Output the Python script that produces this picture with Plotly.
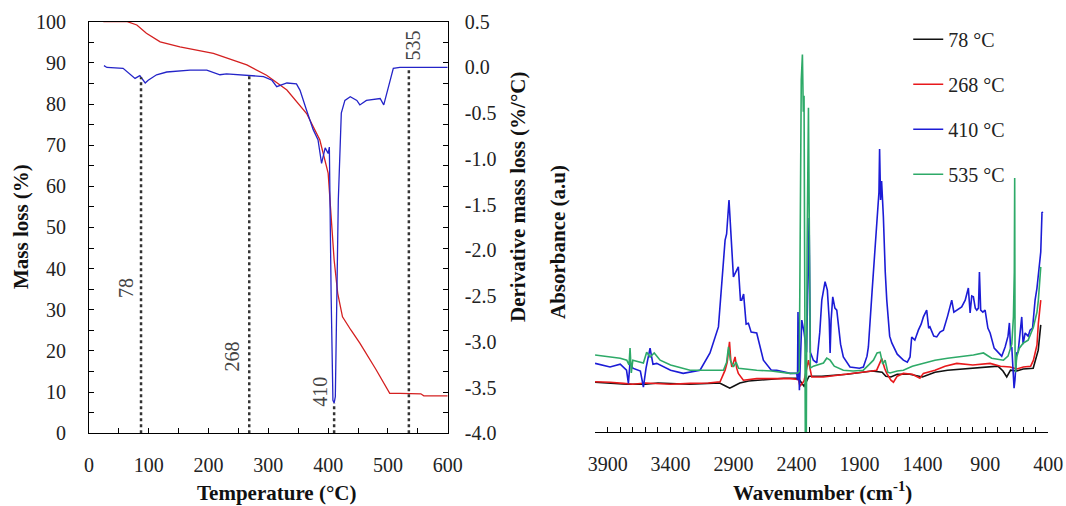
import numpy as np
import plotly.graph_objects as go

# ---------------- Left panel: TGA / DTG ----------------
tga_temp = [24, 64, 80, 96, 119, 152, 208, 264, 297, 331, 364, 386, 400, 404, 410, 416, 424, 438,
            453, 480, 503, 520, 555, 560, 600]
tga_mass = [100, 100, 99.2, 97.2, 95.1, 93.9, 92.3, 89.5, 87.0, 83.4, 77.7, 71.3, 63.2, 54.3, 42.1,
            34.0, 28.3, 25.1, 21.9, 15.5, 9.7, 9.7, 9.6, 9.1, 9.1]

dtg_temp = [25, 30, 57, 69, 77, 85, 94, 99, 113, 130, 169, 197, 219, 230, 264, 292, 306, 314, 322,
            331, 347, 353, 364, 375, 383, 389, 395, 400, 402, 403, 405, 408, 410, 412, 414, 417, 422,
            428, 437, 448, 453, 464, 487, 493, 501, 509, 520, 600]
dtg_val = [0.02, 0.0, -0.01, -0.08, -0.12, -0.09, -0.17, -0.14, -0.08, -0.05, -0.03, -0.03, -0.08,
           -0.07, -0.09, -0.10, -0.14, -0.21, -0.19, -0.17, -0.18, -0.25, -0.47, -0.68, -0.79, -1.05,
           -0.88, -0.94, -0.87, -1.45, -2.5, -3.64, -3.67, -3.6, -2.8, -1.45, -0.50, -0.36, -0.32,
           -0.36, -0.41, -0.36, -0.34, -0.41, -0.21, -0.01, 0.0, 0.0]

mark_temps = [87, 268, 410, 535]
mark_labels = ["78", "268", "410", "535"]

mass_ticks = list(range(0, 101, 5))
temp_ticks = list(range(0, 601, 50))
dtg_ticks = [0.5, 0.0, -0.5, -1.0, -1.5, -2.0, -2.5, -3.0, -3.5, -4.0]
dtg_ticktext = ["0.5", "0.0", "-0.5", "-1.0", "-1.5", "-2.0", "-2.5", "-3.0", "-3.5", "-4.0"]

# ---------------- Right panel: FTIR ----------------
w_78 = [4000, 3880, 3750, 3600, 3500, 3250, 3010, 2960, 2930, 2900, 2850, 2780, 2700, 2500, 2400,
        2375, 2340, 2300, 2200, 2000, 1800, 1720, 1690, 1650, 1600, 1500, 1400, 1300, 1200, 1000,
        900, 800, 760, 730, 700, 650, 600, 520, 480, 460]
a_78 = [12.5, 12.3, 12.0, 12.0, 12.3, 12.0, 12.3, 11.5, 11.0, 11.5, 12.3, 12.8, 13.0, 13.5, 13.5,
        13.0, 11.5, 14.0, 14.0, 14.5, 15.3, 15.0, 14.0, 13.8, 14.5, 14.5, 13.8, 15.0, 15.5, 16.0,
        16.3, 16.5, 15.3, 13.8, 15.5, 15.3, 15.8, 16.0, 20.5, 26.8]

w_268 = [4000, 3880, 3774, 3700, 3600, 3510, 3400, 3245, 3100, 3007, 2967, 2950, 2932, 2922, 2914,
         2900, 2888, 2875, 2862, 2822, 2716, 2600, 2451, 2385, 2372, 2340, 2305, 2290, 2279, 2186,
         2050, 1922, 1800, 1763, 1740, 1723, 1700, 1683, 1650, 1630, 1600, 1551, 1480, 1420, 1392,
         1300, 1220, 1127, 1000, 862, 780, 703, 650, 598, 540, 518, 490, 479, 460]
a_268 = [12.6, 12.5, 12.2, 12.0, 12.3, 12.2, 12.0, 12.2, 12.3, 12.6, 15.5, 17.5, 22.6, 18.0, 16.3,
         17.5, 18.8, 16.0, 14.7, 13.0, 13.4, 13.4, 13.4, 13.2, 11.5, 12.8, 18.0, 15.5, 13.8, 13.8,
         14.3, 14.7, 15.3, 15.5, 17.0, 18.4, 16.0, 14.7, 13.0, 12.5, 14.0, 14.7, 14.5, 13.5, 14.7,
         15.5, 16.5, 17.2, 16.8, 17.2, 16.5, 16.3, 15.8, 16.3, 16.5, 18.0, 21.8, 27.2, 33.0]

w_410 = [4000, 3881, 3800, 3750, 3735, 3722, 3700, 3640, 3616, 3595, 3563, 3540, 3510, 3400, 3300,
         3166, 3087, 3020, 2967, 2955, 2936, 2920, 2901, 2862, 2845, 2835, 2820, 2800, 2782, 2760,
         2716, 2663, 2600, 2557, 2450, 2398, 2392, 2388, 2377, 2358, 2340, 2320, 2300, 2290, 2266,
         2239, 2215, 2199, 2173, 2155, 2140, 2133, 2125, 2112, 2095, 2080, 2050, 2028, 1975, 1900,
         1869, 1840, 1829, 1800, 1789, 1770, 1758, 1745, 1740, 1732, 1724, 1710, 1695, 1683, 1660,
         1643, 1600, 1551, 1520, 1498, 1485, 1460, 1432, 1410, 1392, 1366, 1350, 1340, 1310, 1286,
         1260, 1233, 1200, 1167, 1150, 1127, 1088, 1060, 1035, 1021, 1008, 995, 980, 968, 955, 947,
         937, 920, 902, 880, 862, 830, 796, 770, 743, 720, 709, 700, 690, 680, 672, 665, 651, 640,
         624, 611, 600, 584, 560, 545, 525, 505, 490, 479, 460, 450, 444]
a_410 = [17.2, 16.3, 17.0, 15.5, 12.2, 17.5, 16.0, 15.3, 11.3, 16.0, 21.0, 17.0, 17.2, 15.5, 14.7,
         15.5, 19.8, 26.3, 48.0, 49.5, 58.0, 48.0, 38.8, 41.3, 33.0, 33.0, 34.5, 27.0, 27.2, 25.0,
         24.8, 18.0, 15.5, 15.5, 14.7, 14.7, 13.0, 30.0, 10.5, 28.0, 25.0, 20.0, 53.5, 20.0, 18.0,
         17.3, 25.0, 33.0, 37.6, 35.5, 28.0, 19.8, 28.0, 33.8, 31.0, 30.5, 22.0, 18.8, 16.3, 16.0,
         16.3, 19.0, 21.3, 35.0, 39.7, 48.0, 52.3, 60.0, 70.7, 58.0, 62.7, 53.8, 40.0, 33.0, 24.0,
         22.3, 19.5, 18.0, 17.5, 18.8, 23.8, 23.0, 25.5, 27.0, 28.8, 30.5, 26.0, 26.3, 24.0, 23.8,
         25.0, 25.5, 29.0, 33.0, 30.0, 30.5, 31.3, 33.0, 36.0, 29.8, 34.0, 33.8, 31.0, 30.5, 31.0,
         40.0, 30.5, 30.0, 30.5, 26.0, 24.8, 21.0, 19.8, 19.0, 21.3, 24.0, 27.3, 21.0, 21.3, 15.0,
         11.0, 13.0, 19.8, 20.0, 24.8, 28.8, 22.0, 24.8, 24.0, 25.5, 26.0, 33.0, 36.0, 38.8, 45.0,
         55.0, 54.7]

w_535 = [4000, 3881, 3800, 3748, 3730, 3722, 3712, 3700, 3640, 3616, 3590, 3563, 3530, 3483, 3400,
         3245, 3100, 2980, 2955, 2940, 2925, 2901, 2880, 2860, 2716, 2600, 2451, 2390, 2378, 2372,
         2362, 2353, 2346, 2340, 2335, 2330, 2322, 2316, 2305, 2298, 2290, 2266, 2239, 2186, 2160,
         2133, 2100, 2028, 1950, 1869, 1820, 1789, 1760, 1736, 1715, 1696, 1675, 1657, 1600, 1551,
         1480, 1392, 1300, 1200, 1127, 1050, 995, 915, 850, 756, 720, 690, 677, 670, 667, 664, 660,
         651, 630, 598, 560, 518, 490, 479, 465, 460]
a_535 = [19.3, 18.8, 18.5, 18.0, 16.8, 21.0, 14.8, 18.0, 17.5, 17.3, 20.0, 18.8, 19.8, 18.0, 16.8,
         15.5, 15.5, 15.5, 17.5, 21.3, 18.0, 16.3, 17.5, 16.0, 15.5, 15.3, 14.7, 14.8, 15.2, 45.0,
         88.0, 94.3, 80.0, 84.0, 40.0, 0.0, 0.0, 45.0, 81.0, 40.0, 16.0, 16.5, 16.8, 17.3, 18.5,
         18.0, 16.5, 15.5, 15.3, 15.5, 17.0, 18.0, 19.8, 20.0, 17.0, 18.0, 15.0, 14.8, 15.3, 15.5,
         16.5, 17.3, 18.0, 18.5, 18.8, 19.0, 19.3, 19.8, 18.5, 18.0, 19.0, 22.0, 28.8, 40.0, 63.5,
         20.0, 15.0, 18.8, 21.0, 22.3, 23.0, 26.3, 30.0, 33.0, 40.0, 41.3]

wave_ticks = list(range(4000, 399, -100))
wave_labels = [3900, 3400, 2900, 2400, 1900, 1400, 900, 400]

spectra = [
    ("78 °C", w_78, a_78, "#111111"),
    ("268 °C", w_268, a_268, "#e8191c"),
    ("410 °C", w_410, a_410, "#1c1cd6"),
    ("535 °C", w_535, a_535, "#2eaa68"),
]

SERIF = "Liberation Serif"
TXT = "#222222"

fig = go.Figure()

# TGA curve
fig.add_trace(go.Scatter(x=tga_temp, y=tga_mass, mode="lines", line=dict(color="#d42020", width=1.3),
                         xaxis="x", yaxis="y", showlegend=False))
# DTG curve
fig.add_trace(go.Scatter(x=dtg_temp, y=dtg_val, mode="lines", line=dict(color="#2424c8", width=1.3),
                         xaxis="x", yaxis="y2", showlegend=False))
# dotted markers from the axis up to the DTG curve
for t in mark_temps:
    top = float(np.interp(t, dtg_temp, dtg_val))
    fig.add_trace(go.Scatter(x=[t, t], y=[-4.0, top], mode="lines",
                             line=dict(color="#333333", width=2.5, dash="dot"),
                             xaxis="x", yaxis="y2", showlegend=False))

# FTIR spectra
for i, (name, w, a, col) in enumerate(spectra):
    fig.add_trace(go.Scatter(x=w, y=a, mode="lines", name=name, line=dict(color=col, width=1.6),
                             xaxis="x3", yaxis="y3", legendgroup=f"g{i}", showlegend=True))

axis_common = dict(showgrid=False, zeroline=False, showline=True, linecolor="#000000", linewidth=1.2,
                   tickcolor="#000000", tickfont=dict(family=SERIF, size=20, color=TXT),
                   automargin=False)

fig.update_layout(
    width=1066, height=506,
    margin=dict(l=0, r=0, t=0, b=0, pad=0, autoexpand=False),
    paper_bgcolor="white", plot_bgcolor="white",
    font=dict(family=SERIF, size=20, color=TXT),
    xaxis=dict(domain=[0.0835, 0.4200], range=[0, 600], anchor="y",
               tickmode="array", tickvals=temp_ticks,
               ticktext=[str(v) if v % 100 == 0 else "" for v in temp_ticks],
               ticks="inside", ticklen=5, mirror=True, ticklabelstandoff=14, **axis_common),
    yaxis=dict(domain=[0.1437, 0.9571], range=[0, 100], anchor="x",
               tickmode="array", tickvals=mass_ticks,
               ticktext=[str(v) if v % 10 == 0 else "" for v in mass_ticks],
               ticks="inside", ticklen=5, mirror="ticks", ticklabelstandoff=18, **axis_common),
    yaxis2=dict(overlaying="y", side="right", anchor="x", range=[-4.0, 0.5],
                tickmode="array", tickvals=dtg_ticks, ticktext=dtg_ticktext,
                ticks="", showline=False, showgrid=False, zeroline=False, ticklabelstandoff=16,
                automargin=False, tickfont=dict(family=SERIF, size=20, color=TXT)),
    xaxis3=dict(domain=[0.5582, 0.9834], range=[4000, 400], anchor="y3",
                tickmode="array", tickvals=wave_ticks,
                ticktext=[str(v) if v in wave_labels else "" for v in wave_ticks],
                ticks="inside", ticklen=5, mirror=False, ticklabelstandoff=14, **axis_common),
    yaxis3=dict(domain=[0.1457, 0.9571], range=[0, 102.5], anchor="x3", visible=False),
    legend=dict(x=0.852, y=0.961, xanchor="left", yanchor="top", bgcolor="rgba(0,0,0,0)",
                font=dict(family=SERIF, size=20, color=TXT), tracegroupgap=16, itemwidth=30),
)

ann = []
title_font = dict(family=SERIF, size=21, color="#111111")
centered = dict(xanchor="center", yanchor="middle", showarrow=False)
ann.append(dict(text="<b>Mass loss (%)</b>", x=21 / 1066, y=1 - 227 / 506, xref="paper", yref="paper",
                textangle=-90, font=title_font, **centered))
ann.append(dict(text="<b>Derivative mass loss (%/°C)</b>", x=518 / 1066, y=1 - 197 / 506, xref="paper",
                yref="paper", textangle=-90, font=title_font, **centered))
ann.append(dict(text="<b>Absorbance (a.u)</b>", x=558 / 1066, y=1 - 242 / 506, xref="paper", yref="paper",
                textangle=-90, font=title_font, **centered))
ann.append(dict(text="<b>Temperature (°C)</b>", x=276 / 1066, y=1 - 493 / 506, xref="paper", yref="paper",
                font=title_font, **centered))
ann.append(dict(text="<b>Wavenumber (cm<sup>-1</sup>)</b>", x=822 / 1066, y=1 - 491 / 506, xref="paper",
                yref="paper", font=title_font, **centered))

label_pos = [(63, 35.2), (238.6, 18.6), (386.3, 10.1), (542.3, 94.3)]
for lab, (lx, ly) in zip(mark_labels, label_pos):
    ann.append(dict(text=lab, x=lx, y=ly, xref="x", yref="y", textangle=-90,
                    font=dict(family=SERIF, size=20, color="#444444"), **centered))
fig.update_layout(annotations=ann)

fig.write_html("out.html")
